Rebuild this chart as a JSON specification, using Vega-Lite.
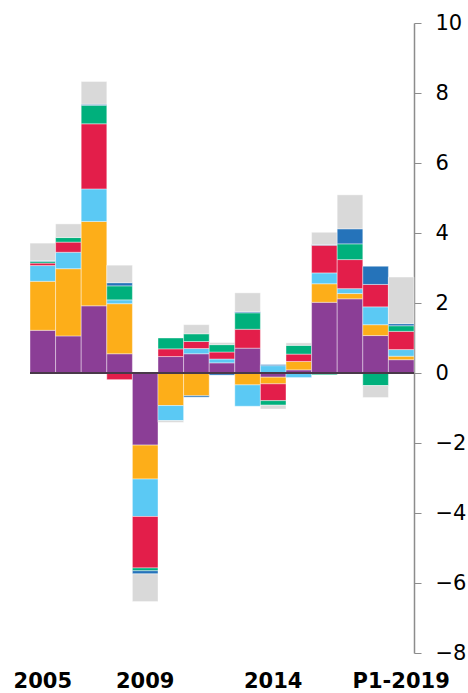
{
  "$schema": "https://vega.github.io/schema/vega-lite/v6.json",
  "width": 384,
  "height": 630,
  "autosize": {"type": "none"},
  "padding": {"left": 30, "top": 23, "right": 54, "bottom": 40},
  "background": "white",
  "config": {"view": {"stroke": null}},
  "data": {"values": [
    {"year":"2005","k":1,"v":1.22},{"year":"2005","k":2,"v":1.40},{"year":"2005","k":3,"v":0.45},{"year":"2005","k":4,"v":0.07},{"year":"2005","k":5,"v":0.05},{"year":"2005","k":6,"v":0.02},{"year":"2005","k":7,"v":0.50},
    {"year":"2006","k":1,"v":1.06},{"year":"2006","k":2,"v":1.92},{"year":"2006","k":3,"v":0.47},{"year":"2006","k":4,"v":0.29},{"year":"2006","k":5,"v":0.13},{"year":"2006","k":7,"v":0.39},
    {"year":"2007","k":1,"v":1.92},{"year":"2007","k":2,"v":2.41},{"year":"2007","k":3,"v":0.93},{"year":"2007","k":4,"v":1.86},{"year":"2007","k":5,"v":0.53},{"year":"2007","k":6,"v":0.03},{"year":"2007","k":7,"v":0.65},
    {"year":"2008","k":1,"v":0.55},{"year":"2008","k":2,"v":1.43},{"year":"2008","k":3,"v":0.11},{"year":"2008","k":4,"v":-0.19},{"year":"2008","k":5,"v":0.40},{"year":"2008","k":6,"v":0.09},{"year":"2008","k":7,"v":0.50},
    {"year":"2009","k":1,"v":-2.06},{"year":"2009","k":2,"v":-0.97},{"year":"2009","k":3,"v":-1.07},{"year":"2009","k":4,"v":-1.47},{"year":"2009","k":5,"v":-0.08},{"year":"2009","k":6,"v":-0.09},{"year":"2009","k":7,"v":-0.79},
    {"year":"2010","k":1,"v":0.47},{"year":"2010","k":2,"v":-0.93},{"year":"2010","k":3,"v":-0.43},{"year":"2010","k":4,"v":0.22},{"year":"2010","k":5,"v":0.31},{"year":"2010","k":7,"v":-0.05},
    {"year":"2011","k":1,"v":0.55},{"year":"2011","k":2,"v":-0.65},{"year":"2011","k":3,"v":0.15},{"year":"2011","k":4,"v":0.20},{"year":"2011","k":5,"v":0.22},{"year":"2011","k":6,"v":-0.04},{"year":"2011","k":7,"v":0.26},
    {"year":"2012","k":1,"v":0.29},{"year":"2012","k":3,"v":0.11},{"year":"2012","k":4,"v":0.20},{"year":"2012","k":5,"v":0.21},{"year":"2012","k":6,"v":-0.06},{"year":"2012","k":7,"v":0.06},
    {"year":"2013","k":1,"v":0.71},{"year":"2013","k":2,"v":-0.34},{"year":"2013","k":3,"v":-0.61},{"year":"2013","k":4,"v":0.54},{"year":"2013","k":5,"v":0.47},{"year":"2013","k":6,"v":0.03},{"year":"2013","k":7,"v":0.54},
    {"year":"2014","k":1,"v":-0.12},{"year":"2014","k":2,"v":-0.19},{"year":"2014","k":3,"v":0.21},{"year":"2014","k":4,"v":-0.48},{"year":"2014","k":5,"v":-0.13},{"year":"2014","k":6,"v":0.03},{"year":"2014","k":7,"v":-0.11},
    {"year":"2015","k":1,"v":0.09},{"year":"2015","k":2,"v":0.24},{"year":"2015","k":3,"v":-0.13},{"year":"2015","k":4,"v":0.21},{"year":"2015","k":5,"v":0.25},{"year":"2015","k":7,"v":0.07},
    {"year":"2016","k":1,"v":2.02},{"year":"2016","k":2,"v":0.53},{"year":"2016","k":3,"v":0.31},{"year":"2016","k":4,"v":0.79},{"year":"2016","k":5,"v":-0.05},{"year":"2016","k":6,"v":0.02},{"year":"2016","k":7,"v":0.35},
    {"year":"2017","k":1,"v":2.12},{"year":"2017","k":2,"v":0.15},{"year":"2017","k":3,"v":0.14},{"year":"2017","k":4,"v":0.83},{"year":"2017","k":5,"v":0.45},{"year":"2017","k":6,"v":0.43},{"year":"2017","k":7,"v":0.97},
    {"year":"2018","k":1,"v":1.07},{"year":"2018","k":2,"v":0.31},{"year":"2018","k":3,"v":0.51},{"year":"2018","k":4,"v":0.64},{"year":"2018","k":5,"v":-0.36},{"year":"2018","k":6,"v":0.52},{"year":"2018","k":7,"v":-0.34},
    {"year":"P1-2019","k":1,"v":0.38},{"year":"P1-2019","k":2,"v":0.10},{"year":"P1-2019","k":3,"v":0.19},{"year":"P1-2019","k":4,"v":0.52},{"year":"P1-2019","k":5,"v":0.16},{"year":"P1-2019","k":6,"v":0.06},{"year":"P1-2019","k":7,"v":1.33}
  ]},
  "layer": [
    {
      "mark": {"type": "bar", "stroke": "white", "strokeWidth": 0.5, "strokeOpacity": 0.8},
      "encoding": {
        "x": {
          "field": "year", "type": "nominal", "sort": null,
          "scale": {"paddingInner": 0, "paddingOuter": 0},
          "axis": {
            "title": null, "values": ["2005", "2009", "2014", "P1-2019"],
            "domain": false, "ticks": false, "labelAngle": 0,
            "labelFont": "DejaVu Sans", "labelFontWeight": "bold", "labelFontSize": 21,
            "labelColor": "black", "labelPadding": 17, "labelOverlap": false
          }
        },
        "y": {
          "field": "v", "type": "quantitative", "stack": "zero",
          "scale": {"domain": [-8, 10], "nice": false, "zero": false},
          "axis": {
            "title": null, "orient": "right", "values": [-8, -6, -4, -2, 0, 2, 4, 6, 8, 10],
            "grid": false, "domainColor": "#8c8c8c", "domainWidth": 1.5,
            "tickColor": "#8c8c8c", "tickSize": 7, "tickWidth": 1,
            "labelFont": "DejaVu Sans", "labelFontSize": 21, "labelColor": "black",
            "labelPadding": 14
          }
        },
        "color": {
          "field": "k", "type": "ordinal", "legend": null,
          "scale": {"domain": [1, 2, 3, 4, 5, 6, 7],
                    "range": ["#8B3E96", "#FDAE19", "#5BC9F4", "#E31E4A", "#00B07C", "#2573BA", "#D9D9D9"]}
        },
        "order": {"field": "k", "type": "quantitative"}
      }
    },
    {
      "mark": {"type": "rule", "color": "#4a3a4a", "strokeWidth": 1.5},
      "encoding": {"y": {"datum": 0}}
    }
  ]
}
